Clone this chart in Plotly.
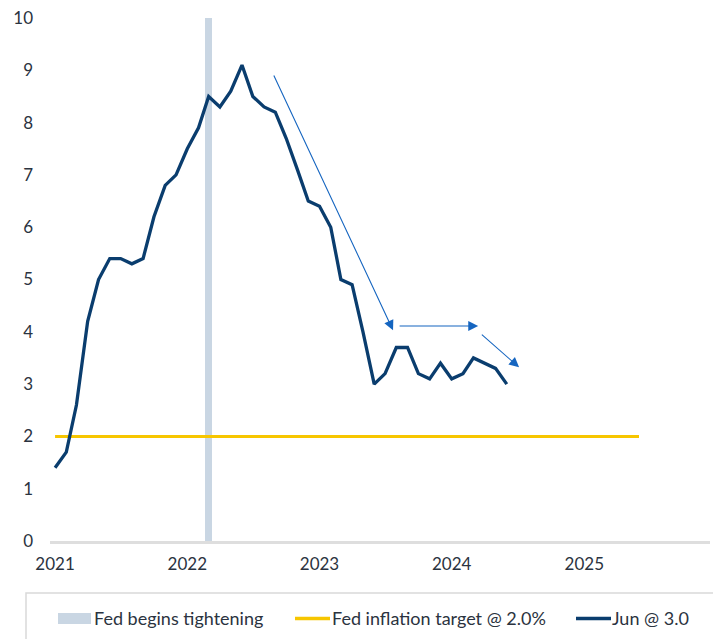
import plotly.graph_objects as go
import pandas as pd

months = pd.date_range("2021-01-01", "2024-06-01", freq="MS")
cpi = [1.4, 1.7, 2.6, 4.2, 5.0, 5.4, 5.4, 5.3, 5.4, 6.2, 6.8, 7.0,
       7.5, 7.9, 8.5, 8.3, 8.6, 9.1, 8.5, 8.3, 8.2, 7.7, 7.1, 6.5,
       6.4, 6.0, 5.0, 4.9, 4.0, 3.0, 3.2, 3.7, 3.7, 3.2, 3.1, 3.4,
       3.1, 3.2, 3.5, 3.4, 3.3, 3.0]

target_x = ["2021-01-01", "2025-06-01"]
target_y = [2.0, 2.0]

tightening_x = ["2022-03-01"]
tightening_y = [10]

tick_vals = ["2021-01-01", "2022-01-01", "2023-01-01", "2024-01-01", "2025-01-01"]
tick_text = ["2021", "2022", "2023", "2024", "2025"]

legend_names = ["Fed begins tightening", "Fed inflation target @ 2.0%", "Jun @ 3.0"]
colors = {"shade": "#c9d6e3", "target": "#f7c600", "cpi": "#0a3d6e", "arrow": "#1565c0"}

# arrows (tail x, tail y, head x, head y)
arrows = [
    ("2022-08-26", 8.93, "2023-07-23", 4.03),
    ("2023-08-06", 4.11, "2024-03-14", 4.11),
    ("2024-03-20", 3.97, "2024-07-05", 3.32),
]

# page body has an 8px margin; the figure is sized/positioned to compensate
OFF = 8
W, H = 721 - OFF, 639 - OFF
L, R, T, B = 50 - OFF, 11, 18 - OFF, 98
pw, ph = W - L - R, H - T - B


def px(x):
    return (x - OFF - L) / pw


def py(y):
    return (H - B - (y - OFF)) / ph


fig = go.Figure()
fig.add_trace(go.Bar(x=tightening_x, y=tightening_y, width=20 * 86400000,
                     marker=dict(color=colors["shade"], line=dict(width=0)),
                     name=legend_names[0], showlegend=False))
fig.add_trace(go.Scatter(x=target_x, y=target_y, mode="lines",
                         line=dict(color=colors["target"], width=3),
                         name=legend_names[1], showlegend=False))
fig.add_trace(go.Scatter(x=months, y=cpi, mode="lines",
                         line=dict(color=colors["cpi"], width=3.3),
                         name=legend_names[2], showlegend=False))

for ax_, ay_, x_, y_ in arrows:
    fig.add_annotation(x=x_, y=y_, ax=ax_, ay=ay_, xref="x", yref="y",
                       axref="x", ayref="y", showarrow=True, arrowhead=2,
                       arrowsize=1.8, arrowwidth=1.1, arrowcolor=colors["arrow"], text="")

# legend box
fig.add_shape(type="rect", xref="paper", yref="paper",
              x0=px(26), x1=px(714), y0=py(660), y1=py(593),
              line=dict(color="#d9d9d9", width=1.5), fillcolor="rgba(0,0,0,0)")
# legend symbols
fig.add_shape(type="rect", xref="paper", yref="paper",
              x0=px(58), x1=px(91), y0=py(624), y1=py(613),
              line=dict(width=0), fillcolor=colors["shade"])
fig.add_shape(type="line", xref="paper", yref="paper",
              x0=px(295), x1=px(330), y0=py(618.5), y1=py(618.5),
              line=dict(color=colors["target"], width=3.5))
fig.add_shape(type="line", xref="paper", yref="paper",
              x0=px(576), x1=px(611), y0=py(618.5), y1=py(618.5),
              line=dict(color=colors["cpi"], width=3.5))
for name, xpos in zip(legend_names, [92, 330, 610]):
    fig.add_annotation(text=name, xref="paper", yref="paper", x=px(xpos), y=py(618),
                       xanchor="left", yanchor="middle", showarrow=False,
                       font=dict(size=18, color="#2b3340"))

fig.update_layout(
    width=W, height=H,
    margin=dict(l=L, r=R, t=T, b=B, autoexpand=False),
    plot_bgcolor="white", paper_bgcolor="white",
    font=dict(family="Lato, sans-serif", size=17, color="#2b3340"),
    showlegend=False,
    bargap=0,
    xaxis=dict(type="date", range=["2020-12-18", "2025-12-14"],
               tickvals=tick_vals, ticktext=tick_text, showgrid=False,
               showline=True, linecolor="#dedede", linewidth=2.5,
               ticks="", zeroline=False, automargin=False, ticklabelstandoff=6,
               ticklabeloverflow="allow"),
    yaxis=dict(range=[0, 10], dtick=1, showgrid=False, zeroline=False,
               showline=False, ticks="", ticklabelstandoff=16, automargin=False,
               ticklabeloverflow="allow"),
)

fig.write_html("out.html")
